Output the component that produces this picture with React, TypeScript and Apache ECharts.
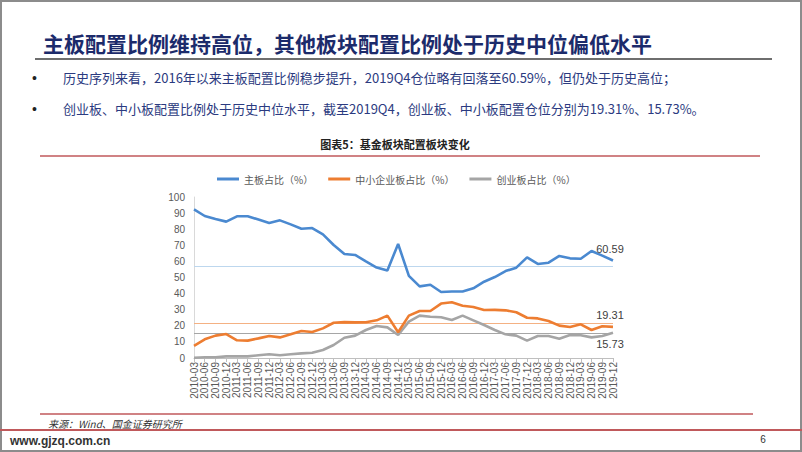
import React, { useEffect, useRef } from "react";
import * as echarts from "echarts";

const categories = [
  "2010-03", "2010-06", "2010-09", "2010-12",
  "2011-03", "2011-06", "2011-09", "2011-12",
  "2012-03", "2012-06", "2012-09", "2012-12",
  "2013-03", "2013-06", "2013-09", "2013-12",
  "2014-03", "2014-06", "2014-09", "2014-12",
  "2015-03", "2015-06", "2015-09", "2015-12",
  "2016-03", "2016-06", "2016-09", "2016-12",
  "2017-03", "2017-06", "2017-09", "2017-12",
  "2018-03", "2018-06", "2018-09", "2018-12",
  "2019-03", "2019-06", "2019-09", "2019-12",
];

const mainBoard = [
  92.3, 88.2, 86.3, 84.7, 88.0, 88.0, 86.0, 83.9, 85.5, 83.0,
  80.3, 80.7, 76.8, 70.2, 64.6, 64.0, 60.0, 56.2, 54.4, 70.8,
  51.0, 44.5, 45.5, 41.0, 41.3, 41.3, 43.3, 47.4, 50.3, 54.0,
  56.1, 62.5, 58.4, 59.2, 63.4, 61.9, 61.6, 66.5, 63.6, 60.59,
];

const smeBoard = [
  7.5, 11.6, 13.9, 14.9, 11.0, 10.8, 12.2, 13.7, 12.8, 14.7,
  16.8, 16.1, 18.4, 21.9, 22.3, 22.1, 22.2, 23.4, 26.3, 16.0,
  26.3, 29.2, 29.2, 33.8, 34.6, 32.5, 31.7, 29.8, 29.9, 29.6,
  28.4, 25.0, 24.6, 23.0, 20.1, 19.3, 20.9, 17.4, 19.7, 19.31,
];

const gemBoard = [
  0.2, 0.5, 0.5, 1.0, 1.0, 1.0, 1.7, 2.3, 1.7, 2.3,
  2.9, 3.3, 5.0, 8.1, 12.6, 13.9, 17.4, 19.9, 19.0, 14.3,
  22.6, 26.3, 25.6, 25.3, 23.6, 26.3, 23.4, 20.5, 17.4, 14.7,
  13.9, 10.8, 13.7, 13.7, 12.0, 14.3, 14.1, 12.8, 13.7, 15.73,
];

const referenceLevels = [57.2, 21.5, 15.3];

const seriesNames = ["主板占比（%）", "中小企业板占比（%）", "创业板占比（%）"];
const seriesColors = ["#4A89D0", "#ED7D31", "#A5A5A5"];
const refColors = ["#BDD7EE", "#F4B183", "#A6A6A6"];
const labelPositions = ["top", "top", "bottom"];

const pageTitle = "主板配置比例维持高位，其他板块配置比例处于历史中位偏低水平";
const bullet1 = "历史序列来看，2016年以来主板配置比例稳步提升，2019Q4仓位略有回落至60.59%，但仍处于历史高位；";
const bullet2 = "创业板、中小板配置比例处于历史中位水平，截至2019Q4，创业板、中小板配置仓位分别为19.31%、15.73%。";
const chartTitle = "图表5：基金板块配置板块变化";
const sourceText = "来源：Wind、国金证券研究所";
const siteText = "www.gjzq.com.cn";
const pageNo = "6";

const CJK = '"Noto Sans CJK SC", "Microsoft YaHei", sans-serif';
const LAT = '"Liberation Sans", Arial, sans-serif';

export default function App() {
  const ref = useRef<HTMLDivElement>(null);
  useEffect(() => {
    if (!ref.current) return;
    const chart = echarts.init(ref.current, null, { renderer: "svg" });
    const allData = [mainBoard, smeBoard, gemBoard];
    const series = allData.map((arr, si) => ({
      name: seriesNames[si],
      type: "line",
      data: arr.map((v, i) =>
        i === arr.length - 1
          ? {
              value: v,
              label: {
                show: true,
                position: labelPositions[si],
                distance: 6,
                offset: [-3, 0],
                color: "#404040",
                fontSize: 11,
                fontFamily: LAT,
                formatter: String(v),
              },
            }
          : v
      ),
      symbol: "circle",
      symbolSize: 0,
      showSymbol: true,
      lineStyle: { width: 2.6, color: seriesColors[si] },
      itemStyle: { color: seriesColors[si] },
      z: 5 - si,
      markLine: {
        silent: true,
        symbol: "none",
        label: { show: false },
        lineStyle: { color: refColors[si], width: 1, type: "solid" },
        data: [{ yAxis: referenceLevels[si] }],
        z: 1,
      },
    }));

    const option = {
      animation: false,
      backgroundColor: "#ffffff",
      grid: { left: 194, right: 189, top: 197, bottom: 94, containLabel: false },
      legend: {
        data: seriesNames,
        left: 212,
        top: 169,
        icon: "rect",
        itemWidth: 22,
        itemHeight: 3,
        itemGap: 15,
        textStyle: { color: "#595959", fontSize: 10, fontFamily: CJK },
      },
      xAxis: {
        type: "category",
        data: categories,
        boundaryGap: false,
        axisLine: { show: true, lineStyle: { color: "#BFBFBF", width: 1 } },
        axisTick: { show: true, length: 4, interval: 0, lineStyle: { color: "#BFBFBF" } },
        axisLabel: {
          interval: 0,
          rotate: 90,
          margin: 4,
          color: "#595959",
          fontSize: 10,
          fontFamily: LAT,
        },
        splitLine: { show: false },
      },
      yAxis: {
        type: "value",
        min: 0,
        max: 100,
        interval: 10,
        axisLine: { show: true, lineStyle: { color: "#D9D9D9" } },
        axisTick: { show: false },
        axisLabel: { color: "#595959", fontSize: 10, fontFamily: LAT, margin: 9 },
        splitLine: { show: false },
      },
      series,
      graphic: [
        {
          type: "rect",
          shape: { x: 1, y: 1, width: 800, height: 450 },
          style: { fill: "none", stroke: "#8C8C8C", lineWidth: 2 },
          silent: true,
        },
        {
          type: "text",
          x: 43,
          y: 43,
          style: {
            text: pageTitle,
            fill: "#1C2B6B",
            font: `bold 21px ${CJK}`,
            align: "left",
            verticalAlign: "middle",
          },
        },
        {
          type: "line",
          shape: { x1: 35, y1: 59, x2: 772, y2: 59 },
          style: { stroke: "#6E6E6E", lineWidth: 2 },
        },
        {
          type: "text",
          x: 32,
          y: 78,
          style: { text: "•", fill: "#222222", font: `14px ${LAT}`, align: "left", verticalAlign: "middle" },
        },
        {
          type: "text",
          x: 63,
          y: 77,
          style: { text: bullet1, fill: "#2B3A80", font: `13px ${CJK}`, align: "left", verticalAlign: "middle" },
        },
        {
          type: "text",
          x: 32,
          y: 109,
          style: { text: "•", fill: "#222222", font: `14px ${LAT}`, align: "left", verticalAlign: "middle" },
        },
        {
          type: "text",
          x: 63,
          y: 108,
          style: { text: bullet2, fill: "#2B3A80", font: `13px ${CJK}`, align: "left", verticalAlign: "middle" },
        },
        {
          type: "text",
          x: 395,
          y: 144,
          style: { text: chartTitle, fill: "#222222", font: `bold 11px ${CJK}`, align: "center", verticalAlign: "middle" },
        },
        {
          type: "line",
          shape: { x1: 40, y1: 156, x2: 760, y2: 156 },
          style: { stroke: "#C0595B", lineWidth: 1.5 },
        },
        {
          type: "line",
          shape: { x1: 40, y1: 414, x2: 753, y2: 414 },
          style: { stroke: "#C0595B", lineWidth: 1.5 },
        },
        {
          type: "text",
          x: 48,
          y: 423,
          style: { text: sourceText, fill: "#333333", font: `italic 10px ${CJK}`, align: "left", verticalAlign: "middle" },
        },
        {
          type: "line",
          shape: { x1: 0, y1: 430, x2: 802, y2: 430 },
          style: { stroke: "#C0595B", lineWidth: 2 },
        },
        {
          type: "text",
          x: 10,
          y: 441,
          style: { text: siteText, fill: "#333333", font: `bold 12px ${LAT}`, align: "left", verticalAlign: "middle" },
        },
        {
          type: "text",
          x: 763,
          y: 439,
          style: { text: pageNo, fill: "#333333", font: `10px ${LAT}`, align: "center", verticalAlign: "middle" },
        },
      ],
    };
    chart.setOption(option as any);
    return () => chart.dispose();
  }, []);

  return (
    <div
      ref={ref}
      style={{ position: "absolute", left: 0, top: 0, width: 802, height: 452, background: "#fff" }}
    />
  );
}
